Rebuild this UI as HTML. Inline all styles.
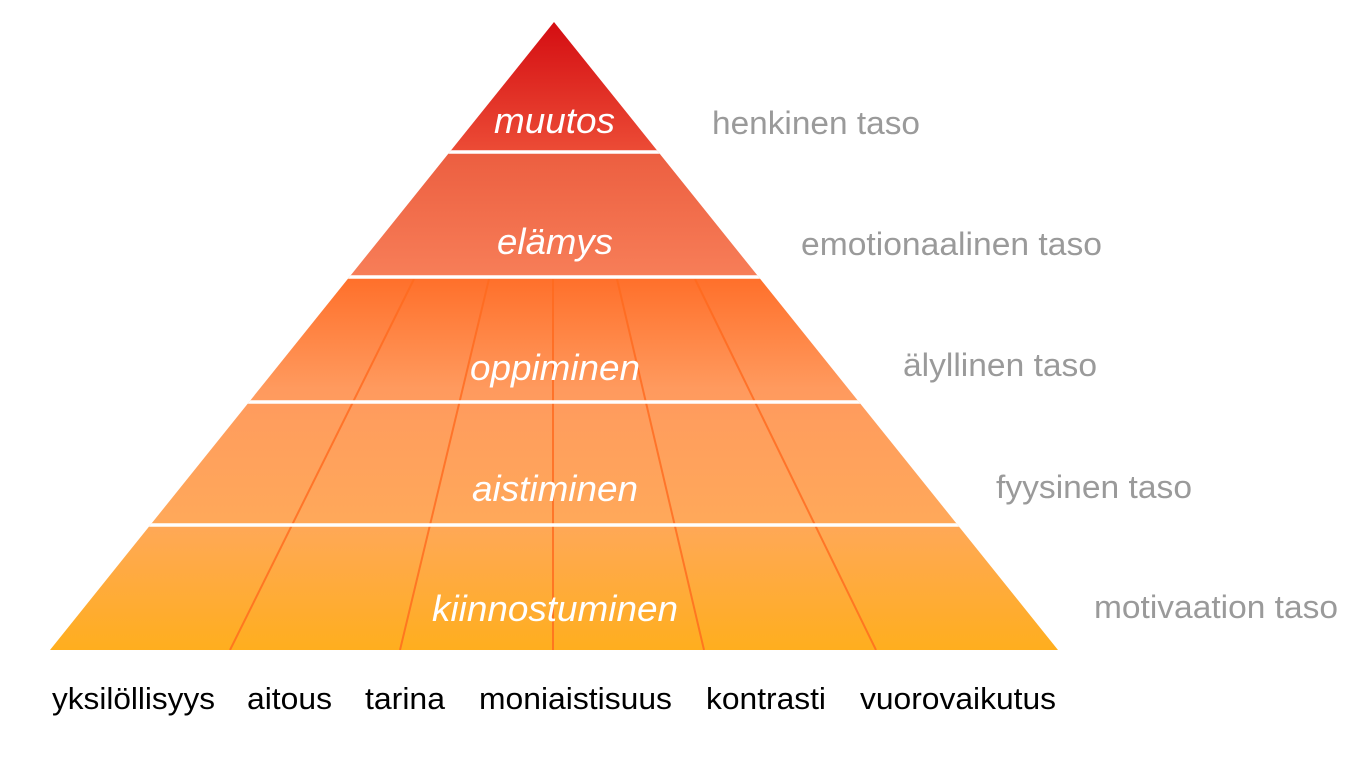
<!DOCTYPE html>
<html><head><meta charset="utf-8"><style>
html,body{margin:0;padding:0;background:#fff;}
body{width:1361px;height:753px;overflow:hidden;}
</style></head><body>
<svg width="1361" height="753" viewBox="0 0 1361 753" xmlns="http://www.w3.org/2000/svg">
<defs>
<linearGradient id="g1" x1="0" y1="22" x2="0" y2="152" gradientUnits="userSpaceOnUse"><stop offset="0" stop-color="#d40d12"/><stop offset="1" stop-color="#ec4c36"/></linearGradient>
<linearGradient id="g2" x1="0" y1="152" x2="0" y2="277" gradientUnits="userSpaceOnUse"><stop offset="0" stop-color="#ec5e40"/><stop offset="1" stop-color="#f77e58"/></linearGradient>
<linearGradient id="g3" x1="0" y1="277" x2="0" y2="650" gradientUnits="userSpaceOnUse"><stop offset="0" stop-color="#ff6f2a"/><stop offset="0.3" stop-color="#ff9a5e"/><stop offset="0.65" stop-color="#ffa85a"/><stop offset="1" stop-color="#ffae1e"/></linearGradient>
<clipPath id="c"><polygon points="554,22 50,650 1058,650"/></clipPath>
</defs>
<g clip-path="url(#c)">
<rect x="0" y="0" width="1361" height="152" fill="url(#g1)"/>
<rect x="0" y="152" width="1361" height="125" fill="url(#g2)"/>
<rect x="0" y="277" width="1361" height="373" fill="url(#g3)"/>
<g stroke="#ff6a1e" stroke-width="2" opacity="0.8">
<line x1="414" y1="279" x2="230" y2="650"/>
<line x1="489" y1="279" x2="400" y2="650"/>
<line x1="553" y1="279" x2="553" y2="650"/>
<line x1="617" y1="279" x2="704" y2="650"/>
<line x1="695" y1="279" x2="876" y2="650"/>
</g>
<g stroke="#fff" stroke-width="3.5">
<line x1="0" y1="152" x2="1361" y2="152"/>
<line x1="0" y1="277" x2="1361" y2="277"/>
<line x1="0" y1="402" x2="1361" y2="402"/>
<line x1="0" y1="525" x2="1361" y2="525"/>
</g>
</g>
<g font-family="Liberation Sans, sans-serif" font-style="italic" font-size="36" fill="#fff" lengthAdjust="spacingAndGlyphs">
<text x="494" y="133" textLength="121" lengthAdjust="spacingAndGlyphs">muutos</text>
<text x="497" y="254" textLength="116" lengthAdjust="spacingAndGlyphs">elämys</text>
<text x="470" y="380" textLength="170" lengthAdjust="spacingAndGlyphs">oppiminen</text>
<text x="472" y="501" textLength="166" lengthAdjust="spacingAndGlyphs">aistiminen</text>
<text x="432" y="621" textLength="246" lengthAdjust="spacingAndGlyphs">kiinnostuminen</text>
</g>
<g font-family="Liberation Sans, sans-serif" font-size="32" fill="#9a9a9a">
<text x="712" y="134" textLength="208" lengthAdjust="spacingAndGlyphs">henkinen taso</text>
<text x="801" y="255" textLength="301" lengthAdjust="spacingAndGlyphs">emotionaalinen taso</text>
<text x="903" y="376" textLength="194" lengthAdjust="spacingAndGlyphs">älyllinen taso</text>
<text x="996" y="498" textLength="196" lengthAdjust="spacingAndGlyphs">fyysinen taso</text>
<text x="1094" y="618" textLength="244" lengthAdjust="spacingAndGlyphs">motivaation taso</text>
</g>
<g font-family="Liberation Sans, sans-serif" font-size="31" fill="#000">
<text x="52" y="709" textLength="163" lengthAdjust="spacingAndGlyphs">yksilöllisyys</text>
<text x="247" y="709" textLength="85" lengthAdjust="spacingAndGlyphs">aitous</text>
<text x="365" y="709" textLength="80" lengthAdjust="spacingAndGlyphs">tarina</text>
<text x="479" y="709" textLength="193" lengthAdjust="spacingAndGlyphs">moniaistisuus</text>
<text x="706" y="709" textLength="120" lengthAdjust="spacingAndGlyphs">kontrasti</text>
<text x="860" y="709" textLength="196" lengthAdjust="spacingAndGlyphs">vuorovaikutus</text>
</g>
</svg>
</body></html>
